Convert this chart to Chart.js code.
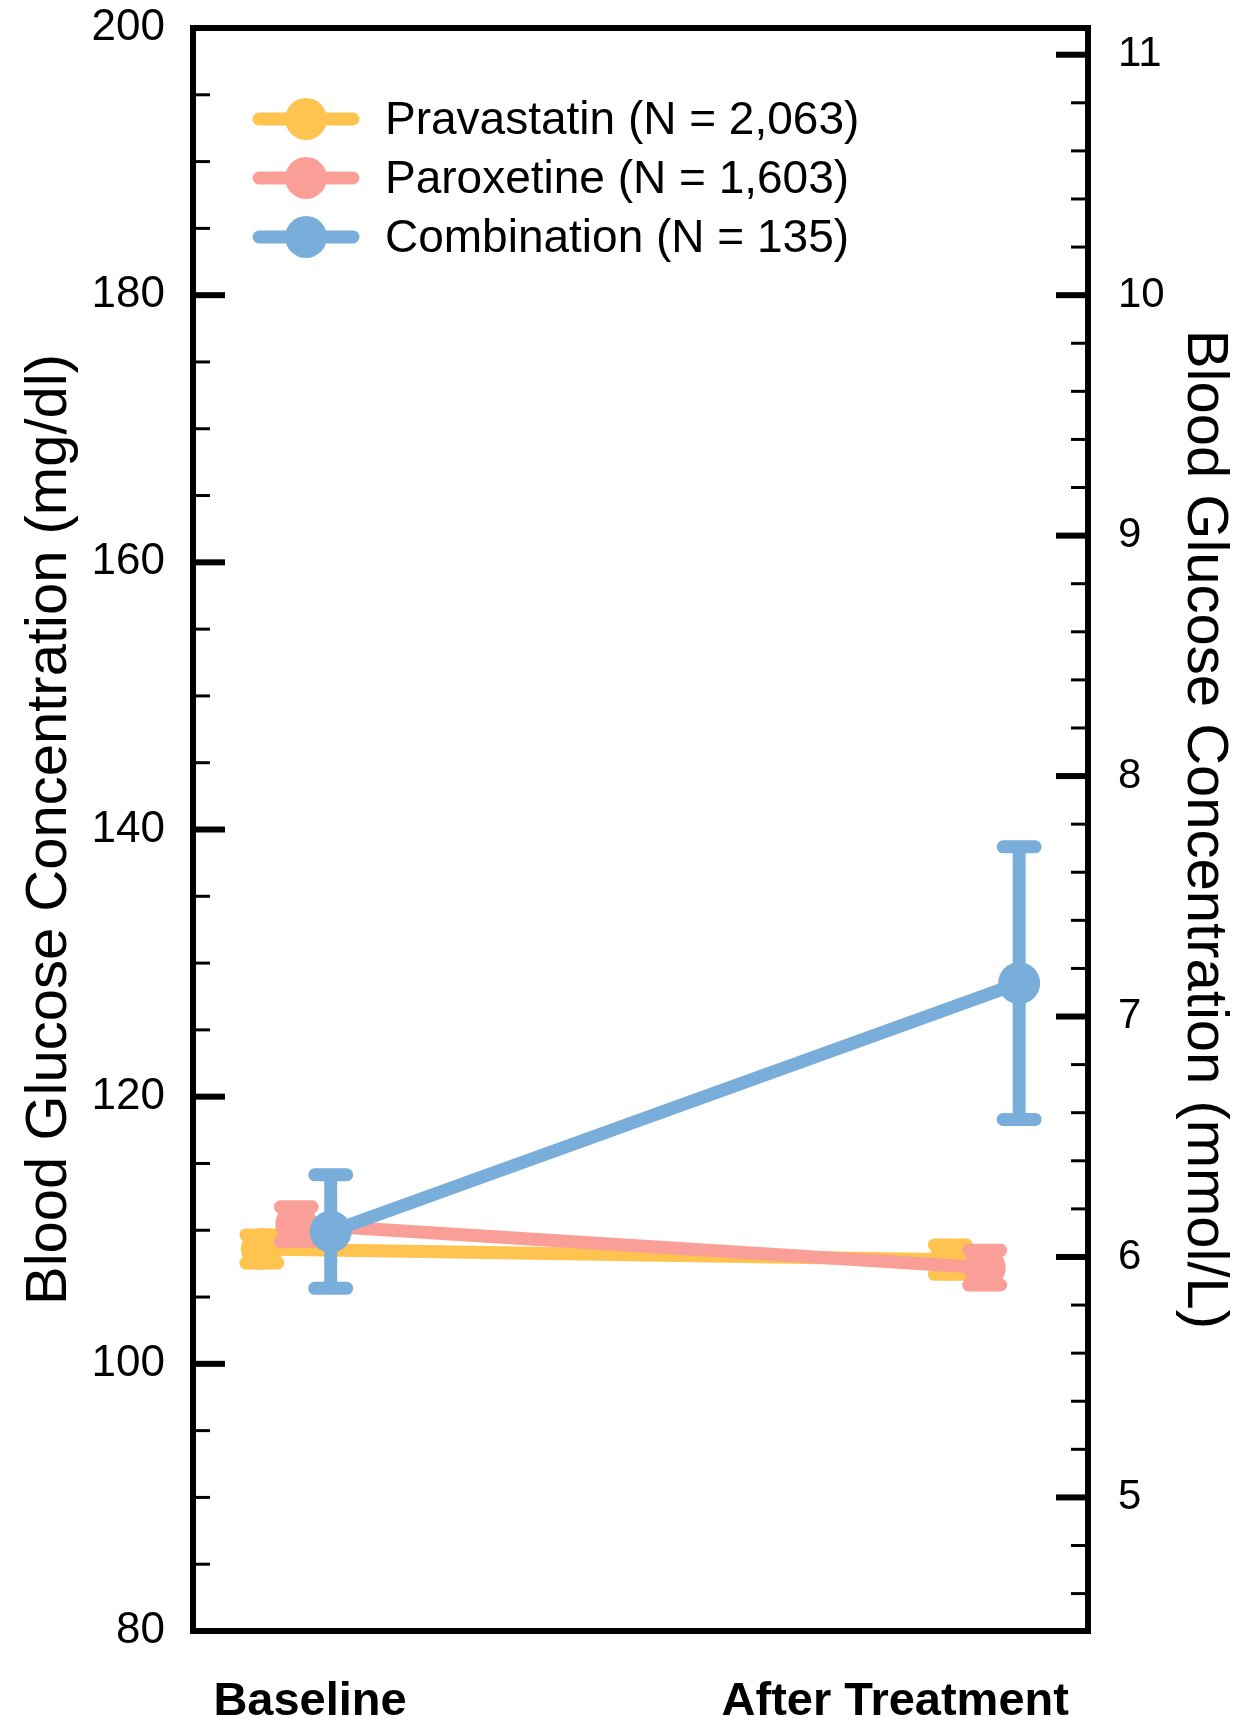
<!DOCTYPE html>
<html>
<head>
<meta charset="utf-8">
<script src="https://cdn.jsdelivr.net/npm/chart.js@4.4.1/dist/chart.umd.min.js"></script>
<style>
  html, body { margin: 0; padding: 0; background: #fff; }
  #wrap { width: 1239px; height: 1727px; position: relative; }
</style>
</head>
<body>
<div id="wrap"><canvas id="glucoseChart"></canvas></div>
<script>
// Values (mg/dl), mean and error-bar half-length
const categories = ["Baseline", "After Treatment"];
const seriesNames = ["Pravastatin (N = 2,063)", "Paroxetine (N = 1,603)", "Combination (N = 135)"];
const pravastatinMean = [108.6, 107.8];
const pravastatinErr = [1.05, 1.1];
const paroxetineMean = [110.45, 107.2];
const paroxetineErr = [1.3, 1.3];
const combinationMean = [109.9, 128.5];
const combinationErr = [4.25, 10.2];

const mgTicks = [80, 100, 120, 140, 160, 180, 200];
const mmolTicks = [5, 6, 7, 8, 9, 10, 11];
const MG_PER_MMOL = 18;

// styling
const COLORS = ["#FFC34F", "#FA9F97", "#79ADDA"];
const DODGE = [-0.05, 0, 0.05]; // side-by-side offset of each group
const LABEL_POS = [0.02, 0.87];  // where the category names sit on the x axis
const FONT = "'Liberation Sans', Arial, Helvetica, sans-serif";
const LINE_W = 13;

const means = [pravastatinMean, paroxetineMean, combinationMean];
const errs = [pravastatinErr, paroxetineErr, combinationErr];

const datasets = means.map((m, s) => ({
  label: seriesNames[s],
  data: m.map((v, i) => ({ x: i + DODGE[s], y: v })),
  borderColor: COLORS[s],
  backgroundColor: COLORS[s],
  pointBackgroundColor: COLORS[s],
  pointBorderWidth: 0,
  pointRadius: 21,
  borderWidth: LINE_W,
  borderCapStyle: "round",
  tension: 0,
  order: 3 - s, // combination drawn last, on top
}));

// fixed axis sizes so the plot box lands where it is in the figure
function fixSize(prop, size) {
  return (scale) => {
    scale[prop] = size;
    scale.paddingTop = 0;
    scale.paddingBottom = 0;
    scale.paddingLeft = 0;
    scale.paddingRight = 0;
  };
}

// frame, inward ticks, error bars and the legend
const decorations = {
  id: "decorations",
  beforeDatasetsDraw(chart) {
    const { ctx, chartArea: a, scales } = chart;
    ctx.save();
    ctx.strokeStyle = "#000";
    ctx.lineCap = "butt";
    // left axis: minor every 5, major every 20
    for (let v = 80; v <= 200; v += 5) {
      const y = scales.y.getPixelForValue(v);
      const major = v % 20 === 0;
      ctx.lineWidth = major ? 6 : 3;
      ctx.beginPath();
      ctx.moveTo(a.left, y);
      ctx.lineTo(a.left + (major ? 32 : 17), y);
      ctx.stroke();
    }
    // right axis: minor every 0.2, major every 1
    for (let k = 23; k <= 55; k++) {
      const y = scales.y2.getPixelForValue(k / 5);
      const major = k % 5 === 0;
      ctx.lineWidth = major ? 6 : 3;
      ctx.beginPath();
      ctx.moveTo(a.right, y);
      ctx.lineTo(a.right - (major ? 32 : 17), y);
      ctx.stroke();
    }
    ctx.lineWidth = 6;
    ctx.lineCap = "square";
    ctx.strokeRect(a.left, a.top, a.right - a.left, a.bottom - a.top);
    ctx.restore();
  },
  afterDatasetDraw(chart, args) {
    const s = args.index;
    const { ctx, scales } = chart;
    ctx.save();
    ctx.strokeStyle = COLORS[s];
    ctx.lineWidth = LINE_W;
    ctx.lineCap = "round";
    means[s].forEach((m, i) => {
      const x = scales.x.getPixelForValue(i + DODGE[s]);
      const yTop = scales.y.getPixelForValue(m + errs[s][i]);
      const yBot = scales.y.getPixelForValue(m - errs[s][i]);
      ctx.beginPath();
      ctx.moveTo(x, yTop);
      ctx.lineTo(x, yBot);
      ctx.moveTo(x - 16, yTop);
      ctx.lineTo(x + 16, yTop);
      ctx.moveTo(x - 16, yBot);
      ctx.lineTo(x + 16, yBot);
      ctx.stroke();
    });
    ctx.restore();
  },
  afterDraw(chart) {
    const { ctx, chartArea: a } = chart;
    ctx.save();
    ctx.font = "46px " + FONT;
    ctx.textBaseline = "middle";
    ctx.textAlign = "left";
    chart.data.datasets.forEach((ds, s) => {
      const y = a.top + 91 + s * 59;
      const x0 = a.left + 66;
      ctx.strokeStyle = COLORS[s];
      ctx.lineWidth = LINE_W;
      ctx.lineCap = "round";
      ctx.beginPath();
      ctx.moveTo(x0, y);
      ctx.lineTo(x0 + 94, y);
      ctx.stroke();
      ctx.fillStyle = COLORS[s];
      ctx.beginPath();
      ctx.arc(x0 + 47, y, 21, 0, Math.PI * 2);
      ctx.fill();
      ctx.fillStyle = "#000";
      ctx.fillText(ds.label, a.left + 192, y + 2);
    });
    ctx.restore();
  },
};

const ctx = document.getElementById("glucoseChart").getContext("2d");
new Chart(ctx, {
  type: "line",
  data: { datasets: datasets },
  plugins: [decorations],
  options: {
    responsive: true,
    maintainAspectRatio: false,
    animation: false,
    layout: { padding: { top: 28, left: 0, right: 0, bottom: 0 } },
    plugins: {
      legend: { display: false },
      tooltip: { enabled: false },
    },
    scales: {
      x: {
        type: "linear",
        min: -0.15,
        max: 1.15,
        grid: { display: false, drawTicks: false },
        border: { display: false },
        afterBuildTicks: (scale) => {
          scale.ticks = LABEL_POS.map((v) => ({ value: v }));
        },
        afterFit: fixSize("height", 96),
        ticks: {
          autoSkip: false,
          maxRotation: 0,
          padding: 43,
          color: "#000",
          font: { family: FONT, size: 47, weight: "bold" },
          callback: (v, i) => categories[i],
        },
      },
      y: {
        position: "left",
        min: 80,
        max: 200,
        grid: { display: false, drawTicks: false },
        border: { display: false },
        afterBuildTicks: (scale) => {
          scale.ticks = mgTicks.map((v) => ({ value: v }));
        },
        afterFit: fixSize("width", 193),
        ticks: {
          autoSkip: false,
          padding: 28,
          color: "#000",
          font: { family: FONT, size: 44 },
        },
        title: {
          display: true,
          text: "Blood Glucose Concentration (mg/dl)",
          color: "#000",
          font: { family: FONT, size: 58, lineHeight: 1.2 },
          padding: { top: 15, bottom: 0 },
        },
      },
      y2: {
        position: "right",
        min: 80 / MG_PER_MMOL,
        max: 200 / MG_PER_MMOL,
        grid: { display: false, drawTicks: false },
        border: { display: false },
        afterBuildTicks: (scale) => {
          scale.ticks = mmolTicks.map((v) => ({ value: v }));
        },
        afterFit: fixSize("width", 151),
        ticks: {
          autoSkip: false,
          padding: 30,
          color: "#000",
          font: { family: FONT, size: 42 },
        },
        title: {
          display: true,
          text: "Blood Glucose Concentration (mmol/L)",
          color: "#000",
          font: { family: FONT, size: 58, lineHeight: 1.2 },
          padding: { top: 0, bottom: 0 },
        },
      },
    },
  },
});
</script>
</body>
</html>
